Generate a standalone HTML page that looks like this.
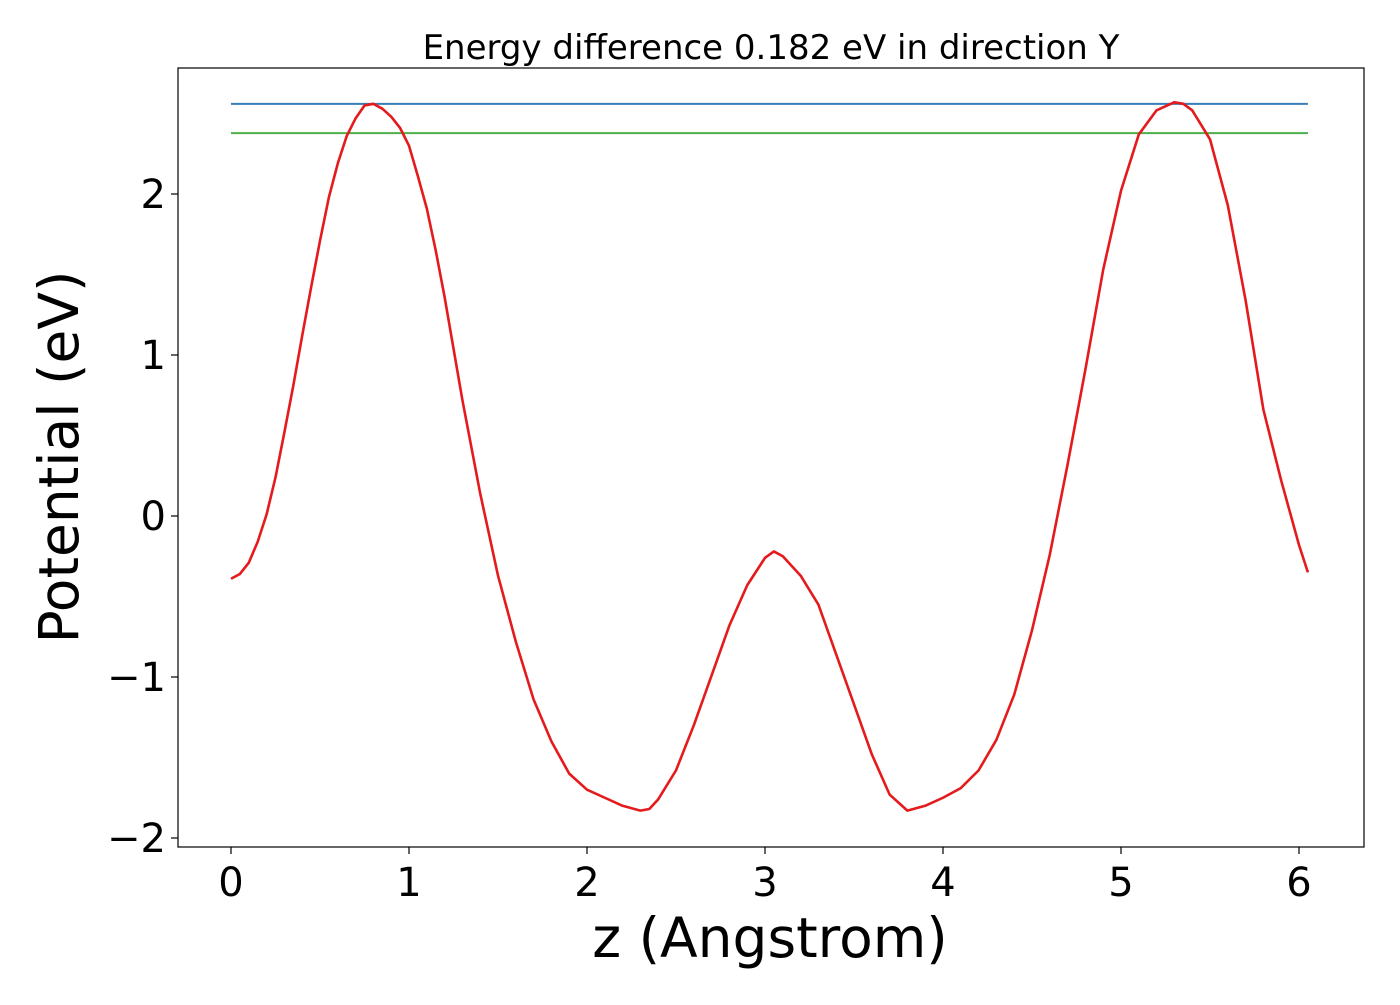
<!DOCTYPE html>
<html><head><meta charset="utf-8"><style>
body{margin:0;background:#fff;}
svg text{font-family:"DejaVu Sans","Liberation Sans",sans-serif;fill:#000;}
</style></head><body>
<svg id="chart" width="1400" height="1000">
<text x="771" y="59" font-size="34" text-anchor="middle">Energy difference 0.182 eV in direction Y</text>
<rect x="178" y="68" width="1186" height="779" fill="none" stroke="#000" stroke-width="1.2"/>
<g id="xticks"></g><g id="yticks"></g><g id="series"></g>
<text x="770" y="957" font-size="55" text-anchor="middle">z (Angstrom)</text>
<text transform="translate(78,457) rotate(-90)" font-size="55" text-anchor="middle">Potential (eV)</text>
</svg>
<script>
const zValues=[0,0.05,0.1,0.15,0.2,0.25,0.3,0.35,0.4,0.45,0.5,0.55,0.6,0.65,0.7,0.75,0.8,0.85,0.9,0.95,1.0,1.05,1.1,1.15,1.2,1.3,1.4,1.5,1.6,1.7,1.8,1.9,2.0,2.1,2.2,2.3,2.35,2.4,2.5,2.6,2.7,2.8,2.9,3.0,3.05,3.1,3.2,3.3,3.4,3.5,3.6,3.7,3.8,3.9,4.0,4.1,4.2,4.3,4.4,4.5,4.6,4.7,4.8,4.9,5.0,5.1,5.2,5.3,5.35,5.4,5.5,5.6,5.7,5.8,5.9,6.0,6.05];
const potential=[-0.39,-0.36,-0.29,-0.16,0.01,0.24,0.52,0.81,1.12,1.42,1.71,1.98,2.19,2.36,2.47,2.55,2.56,2.53,2.48,2.41,2.30,2.11,1.91,1.65,1.36,0.72,0.14,-0.37,-0.78,-1.14,-1.40,-1.60,-1.70,-1.75,-1.80,-1.83,-1.82,-1.76,-1.58,-1.30,-0.99,-0.68,-0.43,-0.26,-0.22,-0.25,-0.37,-0.55,-0.86,-1.17,-1.48,-1.73,-1.83,-1.80,-1.75,-1.69,-1.58,-1.39,-1.11,-0.71,-0.24,0.32,0.91,1.53,2.02,2.37,2.52,2.57,2.56,2.52,2.34,1.93,1.34,0.66,0.22,-0.18,-0.35];
const maxLevel=[2.56];
const refLevel=[2.378];
const xTicks=[0,1,2,3,4,5,6];
const yTicks=[-2,-1,0,1,2];
const NS="http://www.w3.org/2000/svg";
const X=v=>231+178*v, Y=v=>516-161*v;
function mk(t,a,parent){const e=document.createElementNS(NS,t);for(const k in a)e.setAttribute(k,a[k]);document.getElementById(parent).appendChild(e);return e;}
xTicks.forEach(t=>{
 const l=mk('line',{x1:X(t),x2:X(t),y1:847,y2:854,stroke:'#000','stroke-width':1.2},'xticks');
 
 
 const s=mk('text',{x:X(t),y:896,'font-size':40,'text-anchor':'middle'},'xticks');
 s.textContent=t;
 
 
});
yTicks.forEach(t=>{
 const l=mk('line',{x1:171,x2:178,y1:Y(t),y2:Y(t),stroke:'#000','stroke-width':1.2},'yticks');
 
 
 const s=mk('text',{x:166,y:Y(t)+14,'font-size':40,'text-anchor':'end'},'yticks');
 s.textContent=t<0?'\u2212'+(-t):t;
 
 
});
const x0=X(zValues[0]), x1=X(zValues[zValues.length-1]);
const b=mk('line',{x1:x0,x2:x1,y1:Y(maxLevel[0]),y2:Y(maxLevel[0]),stroke:'#377eb8','stroke-width':2},'series');


const g=mk('line',{x1:x0,x2:x1,y1:Y(refLevel[0]),y2:Y(refLevel[0]),stroke:'#4daf4a','stroke-width':2},'series');


const p=mk('polyline',{points:zValues.map((z,i)=>X(z)+','+Y(potential[i])).join(' '),fill:'none',stroke:'#e41a1c','stroke-width':2.6,'stroke-linejoin':'round'},'series');


</script>
</body></html>
